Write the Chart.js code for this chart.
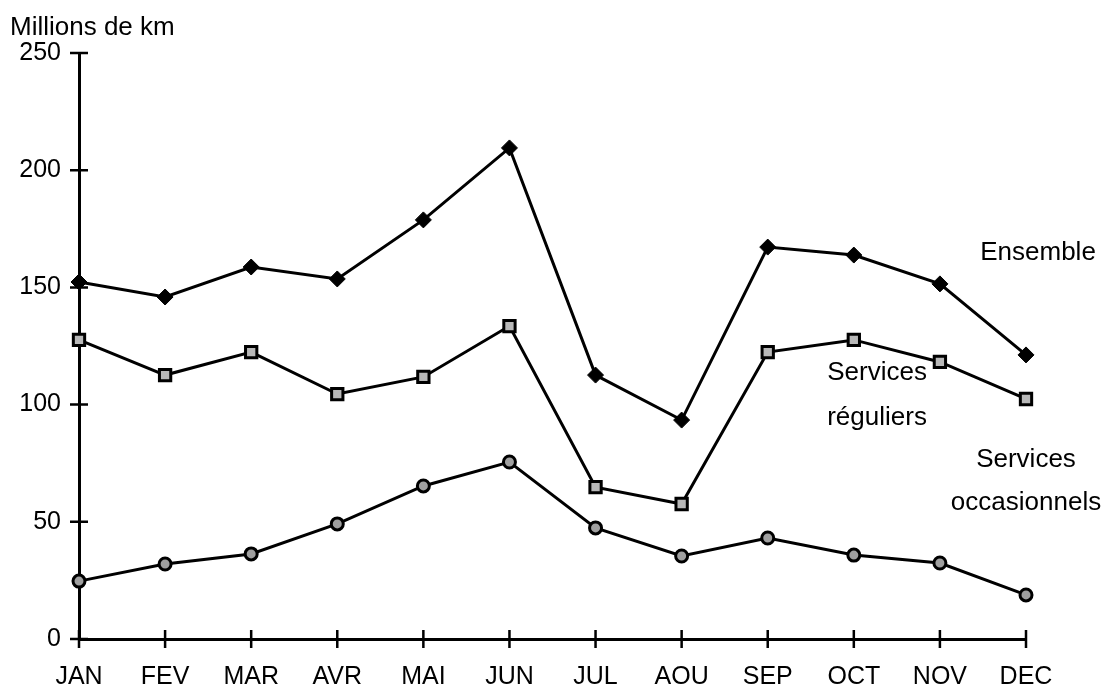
<!DOCTYPE html>
<html>
<head>
<meta charset="utf-8">
<script src="https://cdn.jsdelivr.net/npm/chart.js"></script>
<style>
  html, body { margin: 0; padding: 0; background: #fff; }
  #wrap { width: 1108px; height: 688px; }
</style>
</head>
<body>
<div id="wrap"><canvas id="km"></canvas></div>
<script>
const months = ['JAN', 'FEV', 'MAR', 'AVR', 'MAI', 'JUN', 'JUL', 'AOU', 'SEP', 'OCT', 'NOV', 'DEC'];
const ensemble = [152.3, 145.9, 158.7, 153.6, 178.8, 209.5, 112.6, 93.4, 167.2, 163.8, 151.5, 121.2];
const reguliers = [127.6, 112.6, 122.4, 104.5, 111.8, 133.5, 64.8, 57.6, 122.4, 127.6, 118.2, 102.4];
const occasionnels = [24.7, 32.0, 36.3, 49.1, 65.3, 75.5, 47.4, 35.4, 43.1, 35.8, 32.4, 18.8];
const yTicks = [0, 50, 100, 150, 200, 250];

// series labels placed in data units (x = month index, y = value)
const seriesLabels = [
  { text: 'Ensemble', x: 11.14, y: 164.7 },
  { text: 'Services', x: 9.27, y: 113.5 },
  { text: 'réguliers', x: 9.27, y: 94.3 },
  { text: 'Services', x: 11.0, y: 76.4 },
  { text: 'occasionnels', x: 11.0, y: 58.0 }
];

const FONT = '"Liberation Sans", Arial, Helvetica, sans-serif';

const crossTicks = {
  id: 'crossTicks',
  afterDatasetsDraw(chart) {
    const c = chart.ctx, xs = chart.scales.x, ys = chart.scales.y;
    const area = chart.chartArea;
    c.save();
    c.strokeStyle = '#000';
    c.lineWidth = 2.5;
    c.beginPath();
    months.forEach((m, i) => {
      const px = xs.getPixelForValue(i);
      c.moveTo(px, area.bottom - 9);
      c.lineTo(px, area.bottom + 9);
    });
    yTicks.forEach(v => {
      const py = ys.getPixelForValue(v);
      c.moveTo(area.left - 9, py);
      c.lineTo(area.left + 9, py);
    });
    c.stroke();

    c.fillStyle = '#000';
    c.font = '26px ' + FONT;
    c.textAlign = 'left';
    c.textBaseline = 'middle';
    c.fillText('Millions de km', 10, 28);
    c.textAlign = 'center';
    seriesLabels.forEach(l => {
      c.fillText(l.text, xs.getPixelForValue(l.x), ys.getPixelForValue(l.y));
    });
    c.restore();
  }
};

new Chart(document.getElementById('km'), {
  type: 'line',
  data: {
    labels: months,
    datasets: [
      {
        label: 'Ensemble',
        data: ensemble,
        borderColor: '#000',
        borderWidth: 3,
        backgroundColor: '#000',
        pointStyle: 'rectRot',
        pointRadius: 8,
        pointBorderWidth: 1,
        pointBorderColor: '#000',
        tension: 0
      },
      {
        label: 'Services réguliers',
        data: reguliers,
        borderColor: '#000',
        borderWidth: 3,
        pointBackgroundColor: '#b8b8b8',
        pointStyle: 'rect',
        pointRadius: 8,
        pointBorderWidth: 3,
        pointBorderColor: '#000',
        tension: 0
      },
      {
        label: 'Services occasionnels',
        data: occasionnels,
        borderColor: '#000',
        borderWidth: 3,
        pointBackgroundColor: '#a0a0a0',
        pointStyle: 'circle',
        pointRadius: 6,
        pointBorderWidth: 3,
        pointBorderColor: '#000',
        tension: 0
      }
    ]
  },
  options: {
    responsive: true,
    maintainAspectRatio: false,
    animation: false,
    layout: { padding: { left: 0, right: 82, top: 53, bottom: 0 } },
    plugins: {
      legend: { display: false },
      tooltip: { enabled: false }
    },
    scales: {
      x: {
        offset: false,
        grid: { display: false },
        border: { display: true, color: '#000', width: 3 },
        ticks: {
          color: '#000',
          font: { family: FONT, size: 25 },
          padding: 15,
          maxRotation: 0,
          autoSkip: false
        },
        afterFit(scale) { scale.height = 49; }
      },
      y: {
        min: 0,
        max: 250,
        grid: { display: false },
        border: { display: true, color: '#000', width: 3 },
        afterBuildTicks(scale) { scale.ticks = yTicks.map(v => ({ value: v })); },
        ticks: {
          color: '#000',
          font: { family: FONT, size: 25 },
          padding: 10
        },
        afterFit(scale) { scale.width = 79; }
      }
    }
  },
  plugins: [crossTicks]
});
</script>
</body>
</html>
